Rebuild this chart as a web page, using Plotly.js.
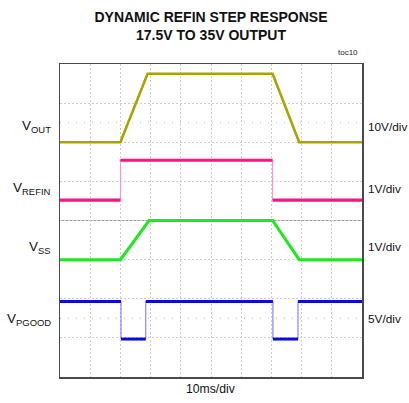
<!DOCTYPE html>
<html>
<head>
<meta charset="utf-8">
<script src="https://cdn.plot.ly/plotly-3.0.1.min.js"></script>
<style>html,body{margin:0;padding:0;background:#fff;}#chart{width:409px;height:403px;}</style>
</head>
<body>
<div id="chart"></div>
<script>
// Time in ms (10 ms/div), values in volts
const voutT   = [0, 20, 29, 70.4, 79.2, 100];
const voutV   = [17.5, 17.5, 35, 35, 17.5, 17.5];
const refinT  = [0, 20, 20, 70.4, 70.4, 100];
const refinV  = [1.0, 1.0, 2.02, 2.02, 1.0, 1.0];
const vssT    = [0, 20, 29.5, 70.4, 79.2, 100];
const vssV    = [1.0, 1.0, 2.0, 2.0, 1.0, 1.0];
const pgoodT  = [0, 20.2, 20.2, 28.4, 28.4, 70.5, 70.5, 78.8, 78.8, 100];
const pgoodV  = [4.8, 4.8, 0, 0, 4.8, 4.8, 0, 0, 4.8, 4.8];

const channelNames = ['V<sub>OUT</sub>', 'V<sub>REFIN</sub>', 'V<sub>SS</sub>', 'V<sub>PGOOD</sub>'];
const channelScales = ['10V/div', '1V/div', '1V/div', '5V/div'];

const FONT = '"Liberation Sans", Arial, sans-serif';

// split a step waveform so vertical edges are removed (drawn thin separately)
function flatSegments(t, v) {
  const x = [], y = [];
  for (let i = 0; i < t.length; i++) {
    x.push(t[i]); y.push(v[i]);
    if (i < t.length - 1 && t[i] === t[i + 1]) { x.push(null); y.push(null); }
  }
  return {x, y};
}

const refinFlat = flatSegments(refinT, refinV);
const pgoodFlat = flatSegments(pgoodT, pgoodV);

const traces = [
  {x: voutT, y: voutV, yaxis: 'y2', mode: 'lines', line: {color: '#aaa200', width: 2.6}, hoverinfo: 'skip'},
  {x: refinT, y: refinV, yaxis: 'y3', mode: 'lines', line: {color: '#ff8ac4', width: 1}, hoverinfo: 'skip'},
  {x: refinFlat.x, y: refinFlat.y, yaxis: 'y3', mode: 'lines', connectgaps: false, line: {color: '#ff1284', width: 3.2}, hoverinfo: 'skip'},
  {x: vssT, y: vssV, yaxis: 'y4', mode: 'lines', line: {color: '#1fe81f', width: 3}, hoverinfo: 'skip'},
  {x: pgoodT, y: pgoodV, yaxis: 'y5', mode: 'lines', line: {color: '#7070ff', width: 1}, hoverinfo: 'skip'},
  {x: pgoodFlat.x, y: pgoodFlat.y, yaxis: 'y5', mode: 'lines', connectgaps: false, line: {color: '#0a0ae6', width: 3}, hoverinfo: 'skip'}
];

const hidden = {overlaying: 'y', visible: false, fixedrange: true};

const gridAx = {
  showgrid: true, gridcolor: '#cdcdcd', griddash: '2px,2px', gridwidth: 1,
  showticklabels: false, ticks: '', zeroline: false,
  showline: true, mirror: true, linecolor: '#4a4a4a', linewidth: 1.5, fixedrange: true
};

const tickAx = {showgrid: false, zeroline: false, showticklabels: false, ticklen: 3, tickcolor: '#9a9a9a', tickwidth: 1, fixedrange: true};

const labelY = [6.39, 4.82, 3.30, 1.46];
const rightY = [6.39, 4.80, 3.32, 1.48];

const annotations = [];
channelNames.forEach((n, i) => {
  annotations.push({text: n, xref: 'paper', yref: 'y', x: -0.022, y: labelY[i], xanchor: 'right', yanchor: 'middle',
    showarrow: false, font: {family: FONT, size: 13.5, color: '#111'}});
});
channelScales.forEach((s, i) => {
  annotations.push({text: s, xref: 'paper', yref: 'y', x: 1.012, y: rightY[i], xanchor: 'left', yanchor: 'middle',
    showarrow: false, font: {family: FONT, size: 11.8, color: '#111'}});
});
annotations.push({text: '10ms/div', xref: 'paper', yref: 'paper', x: 0.5, y: -0.038, xanchor: 'center', yanchor: 'middle',
  showarrow: false, font: {family: FONT, size: 12.2, color: '#111'}});
annotations.push({text: 'toc10', xref: 'paper', yref: 'paper', x: 0.953, y: 1.038, xanchor: 'center', yanchor: 'middle',
  showarrow: false, font: {family: FONT, size: 8, color: '#222'}});

const layout = {
  width: 409, height: 403,
  margin: {l: 60, r: 47, t: 64, b: 26, pad: 0},
  paper_bgcolor: '#fff', plot_bgcolor: '#fff',
  showlegend: false,
  title: {
    text: '<b>DYNAMIC REFIN STEP RESPONSE<br>17.5V TO 35V OUTPUT</b>',
    font: {family: FONT, size: 14, color: '#111'},
    x: 0.5, xref: 'paper', xanchor: 'center', y: 0.945, yref: 'container', yanchor: 'top'
  },
  xaxis: Object.assign({range: [0, 100], dtick: 10, tick0: 0}, gridAx),
  yaxis: Object.assign({range: [0, 8], dtick: 1, tick0: 0}, gridAx),
  yaxis2: Object.assign({range: [-42.5, 37.5]}, hidden),
  yaxis3: Object.assign({range: [-3.52, 4.48]}, hidden),
  yaxis4: Object.assign({range: [-2.0, 6.0]}, hidden),
  yaxis5: Object.assign({range: [-4.85, 35.15]}, hidden),
  xaxis2: Object.assign({overlaying: 'x', anchor: 'free', position: 0.5, range: [0, 100], dtick: 2, tick0: 0, ticks: 'outside',
    showline: true, linecolor: '#a0a0a0', linewidth: 1}, tickAx),
  xaxis3: Object.assign({overlaying: 'x', anchor: 'free', position: 0.5, range: [0, 100], dtick: 2, tick0: 0, ticks: 'inside',
    showline: false}, tickAx),
  yaxis6: Object.assign({overlaying: 'y', anchor: 'free', position: 0.5, range: [0, 8], dtick: 0.2, tick0: 0, ticks: 'outside',
    showline: false}, tickAx),
  yaxis7: Object.assign({overlaying: 'y', anchor: 'free', position: 0.5, range: [0, 8], dtick: 0.2, tick0: 0, ticks: 'inside',
    showline: false}, tickAx),
  shapes: [
    {type: 'line', xref: 'paper', yref: 'y', x0: 0, x1: 1, y0: 6.5, y1: 6.5, line: {color: '#b5b5b5', width: 1, dash: '1px,7px'}, layer: 'below'},
    {type: 'line', xref: 'paper', yref: 'y', x0: 0, x1: 1, y0: 1.5, y1: 1.5, line: {color: '#b5b5b5', width: 1, dash: '1px,7px'}, layer: 'below'},
    {type: 'line', xref: 'paper', yref: 'y', x0: 0, x1: 1, y0: 4, y1: 4, line: {color: '#a0a0a0', width: 1}, layer: 'below'}
  ],
  annotations: annotations
};

Plotly.newPlot('chart', traces, layout, {staticPlot: true, displayModeBar: false});
</script>
</body>
</html>
